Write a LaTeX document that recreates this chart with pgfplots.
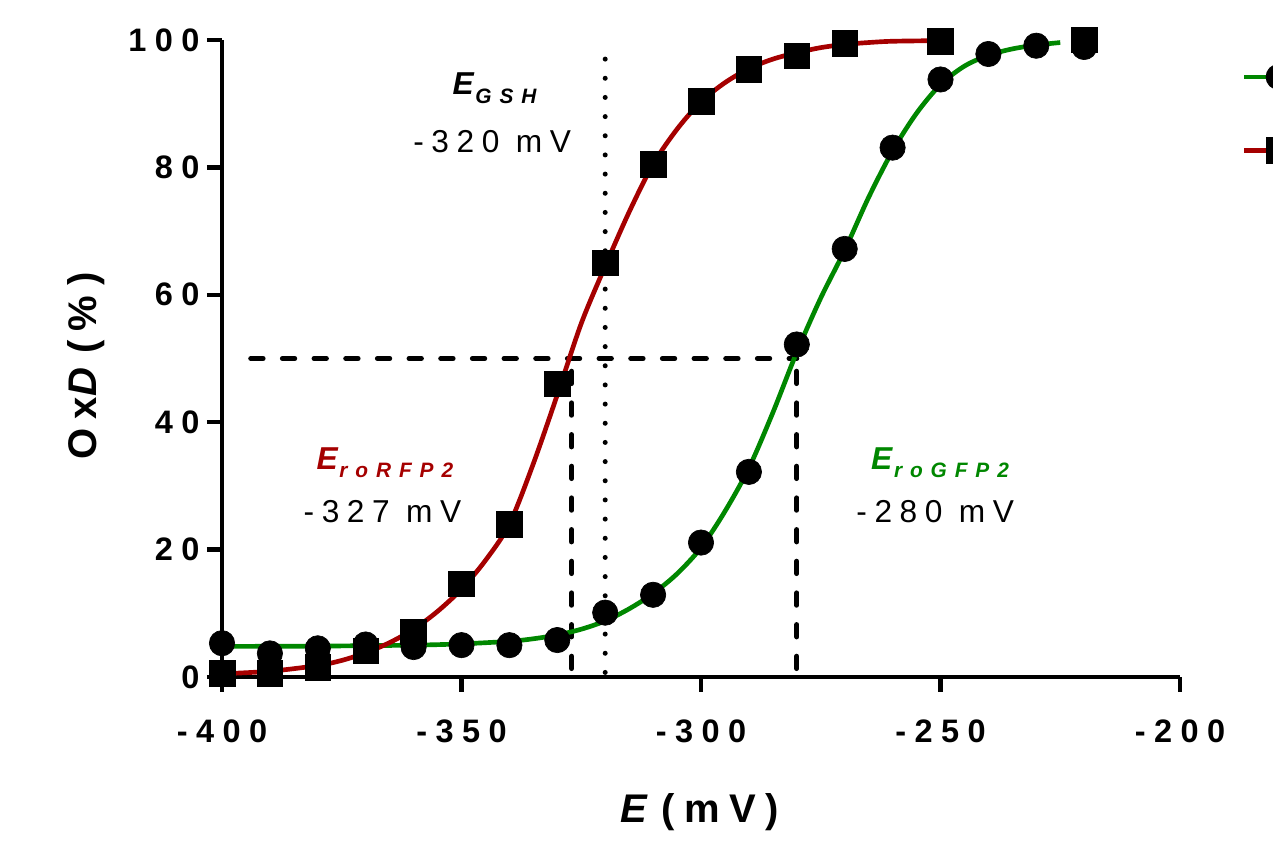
\documentclass[border=0pt]{standalone}
\usepackage{fontspec}
\setmainfont{Liberation Sans}
\newfontfamily\tickf[LetterSpace=26]{Liberation Sans}
\newfontfamily\annf[LetterSpace=24]{Liberation Sans}
\newfontfamily\subf[LetterSpace=38]{Liberation Sans}
\usepackage{pgfplots}
\pgfplotsset{compat=1.18}
\definecolor{ggreen}{RGB}{0,135,0}
\definecolor{rred}{RGB}{165,0,0}
\newcommand{\Esub}[1]{{\annf\bfseries\itshape\fontsize{19}{21}\selectfont E}\hspace{1pt}{\subf\bfseries\itshape\fontsize{12.5}{14}\selectfont\raisebox{-5pt}{#1}}}
\newcommand{\mv}[1]{{\annf\fontsize{19}{21}\selectfont #1}}

\begin{document}
\begin{tikzpicture}
\begin{axis}[
  at={(133.2pt,101.4pt)}, anchor=south west,
  scale only axis, width=574.8pt, height=382.2pt,
  xmin=-400, xmax=-200, ymin=0, ymax=100,
  clip=false,
  axis x line=bottom, axis y line=left,
  axis line style={-, line width=2.6pt},
  tick align=outside, major tick length=9pt,
  tick style={black, line width=2.6pt},
  xtick={-400,-350,-300,-250,-200},
  xticklabels={-400,-350,-300,-250,-200},
  ytick={0,20,40,60,80,100},
  yticklabels={0,20,40,60,80,100},
  ticklabel style={font=\tickf\bfseries\fontsize{19.5}{21}\selectfont},
  xticklabel style={yshift=-13pt},
  yticklabel style={xshift=-1pt},
  xlabel={{\annf\bfseries\itshape E}\hspace{0.35em}{\annf\bfseries(mV)}},
  ylabel={{\annf\bfseries Ox{\itshape D}}\hspace{0.35em}{\annf\bfseries(\%)}},
  label style={font=\fontsize{24}{26}\selectfont},
  xlabel style={at={(0.499,-0.229)}, anchor=base},
  ylabel style={at={(-0.1305,0.488)}, anchor=base, rotate=0},
]
% reference lines
\addplot[black, line width=3pt, line cap=round, dash pattern=on 7.4pt off 11.6pt] coordinates {(-394,50) (-280,50)};
\addplot[black, line width=3pt, line cap=round, dash pattern=on 7.4pt off 11.6pt] coordinates {(-327,48) (-327,0)};
\addplot[black, line width=3pt, line cap=round, dash pattern=on 7.4pt off 11.6pt] coordinates {(-280,48) (-280,0)};
\addplot[black, line width=3pt, line cap=round, dash pattern=on 0pt off 11.5pt] coordinates {(-320,97) (-320,0)};
% fitted curves
\addplot[ggreen, line width=2.8pt, smooth] coordinates {
(-400,4.8) (-380,4.85) (-360,5.0) (-350,5.2) (-340,5.6) (-335,6.0) (-330,6.6) (-325,7.5)
(-320,8.8) (-315,10.7) (-310,13.1) (-305,16.2) (-300,20.3) (-295,26.0) (-290,32.8)
(-285,41.5) (-280,51.0) (-275,59.5) (-270,67.0) (-265,75.3) (-260,82.6) (-255,88.5)
(-250,93.0) (-245,95.9) (-240,97.6) (-235,98.6) (-230,99.2) (-225,99.6)};
\addplot[rred, line width=2.8pt, smooth] coordinates {
(-400,0.5) (-390,0.9) (-380,1.8) (-375,2.6) (-370,3.8) (-365,5.4) (-360,7.5) (-355,10.3)
(-350,13.8) (-345,18.3) (-340,24.0) (-335,33.5) (-330,44.3) (-325,55.5) (-320,64.5)
(-315,73.0) (-310,80.5) (-305,86.0) (-300,90.3) (-295,93.3) (-290,95.5) (-285,97.0)
(-280,98.0) (-275,98.8) (-270,99.3) (-265,99.6) (-260,99.8) (-250,99.9)};
% data
\addplot[only marks, mark=*, mark size=7.6pt, mark options={fill=black, draw=black, line width=0.4pt}] coordinates {
(-400,5.3) (-390,3.7) (-380,4.5) (-370,5.1) (-360,4.7) (-350,5.0) (-340,5.0) (-330,5.8)
(-320,10.1) (-310,12.9) (-300,21.1) (-290,32.2) (-280,52.2) (-270,67.2) (-260,83.1)
(-250,93.8) (-240,97.8) (-230,99.1) (-220,98.9)};
\addplot[only marks, mark=square*, mark size=7.7pt, mark options={fill=black, draw=black, line width=0.4pt}] coordinates {
(-400,0.6) (-390,0.6) (-380,1.5) (-370,4.1) (-360,7.1) (-350,14.6) (-340,24.0) (-330,46.0)
(-320,65.0) (-310,80.5) (-300,90.4) (-290,95.4) (-280,97.5) (-270,99.5) (-250,99.8) (-220,100)};
% legend keys (their labels lie beyond the visible edge in the reference)
\addplot[ggreen, line width=2.8pt] coordinates {(-186.6,94.2) (-170,94.2)};
\addplot[only marks, mark=*, mark size=7.6pt, mark options={fill=black, draw=black, line width=0.4pt}] coordinates {(-179.4,94.2)};
\addplot[rred, line width=2.8pt] coordinates {(-186.6,82.7) (-170,82.7)};
\addplot[only marks, mark=square*, mark size=7.7pt, mark options={fill=black, draw=black, line width=0.4pt}] coordinates {(-179.4,82.7)};
% annotations
\node[anchor=base] at (axis cs:-343.1,91.4) {\Esub{GSH}};
\node[anchor=base] at (axis cs:-343.6,82.3) {\mv{-320 mV}};
\node[anchor=base, text=rred] at (axis cs:-366,32.65) {\Esub{roRFP2}};
\node[anchor=base] at (axis cs:-366.5,24.2) {\mv{-327 mV}};
\node[anchor=base, text=ggreen] at (axis cs:-250.1,32.65) {\Esub{roGFP2}};
\node[anchor=base] at (axis cs:-251.1,24.2) {\mv{-280 mV}};
\end{axis}
\pgfresetboundingbox
\path[use as bounding box] (0,0) rectangle (763.8pt,507.6pt);
\end{tikzpicture}
\end{document}
